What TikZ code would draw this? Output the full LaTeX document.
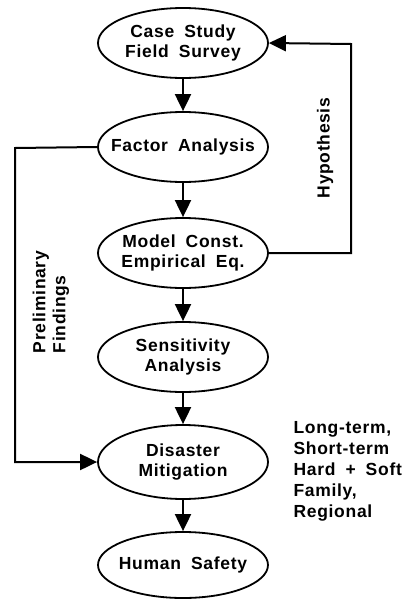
\documentclass[tikz,border=0pt]{standalone}
\usepackage{fontspec}
\setmainfont{Liberation Sans}
\newfontfamily\dfont[LetterSpace=4,WordSpace=1.8]{Liberation Sans}
\usetikzlibrary{shapes.geometric,arrows.meta}
\begin{document}
\begin{tikzpicture}[x=1pt,y=-1pt,
  stage/.style={ellipse,draw,line width=1.8pt,minimum width=170pt,minimum height=70pt,inner xsep=-20pt,inner ysep=0pt,align=center,font=\dfont\fontsize{17.5}{20}\selectfont\bfseries},
  flow/.style={line width=2pt,-{Triangle[width=16pt,length=17pt]}},
  lab/.style={font=\dfont\fontsize{17.5}{20}\selectfont\bfseries}]
\useasboundingbox (0,0) rectangle (407,600);
\node[stage] (cs) at (183,43) {Case Study\\Field Survey};
\node[stage] (fa) at (183,147) {Factor Analysis};
\node[stage] (mc) at (183,253) {Model Const.\\Empirical Eq.};
\node[stage] (sa) at (183,357) {Sensitivity\\Analysis};
\node[stage,minimum height=74pt] (dm) at (183,462) {Disaster\\Mitigation};
\node[stage,minimum height=66pt] (hs) at (183,565) {Human Safety};
\draw[flow] (cs) -- (fa);
\draw[flow] (fa) -- (mc);
\draw[flow] (mc) -- (sa);
\draw[flow] (sa) -- (dm);
\draw[flow] (dm) -- (hs);
\coordinate (hr) at (351,253);
\coordinate (ht) at (351,44);
\draw[flow] (mc.east) -- (hr) -- (ht) -- (cs.east);
\coordinate (pl) at (15,148);
\coordinate (pb) at (15,462);
\draw[flow] (fa.west) -- (pl) -- (pb) -- (dm.west);
\node[lab,rotate=90] (hyp) at (325,148) {Hypothesis};
\node[lab,rotate=90,align=left] (pf) at (51,302) {Preliminary\\Findings};
\node[lab,align=left,anchor=north west,font=\dfont\fontsize{17.5}{21}\selectfont\bfseries] (notes) at (290,418) {Long-term,\\Short-term\\Hard + Soft\\Family,\\Regional};
\end{tikzpicture}
\end{document}
